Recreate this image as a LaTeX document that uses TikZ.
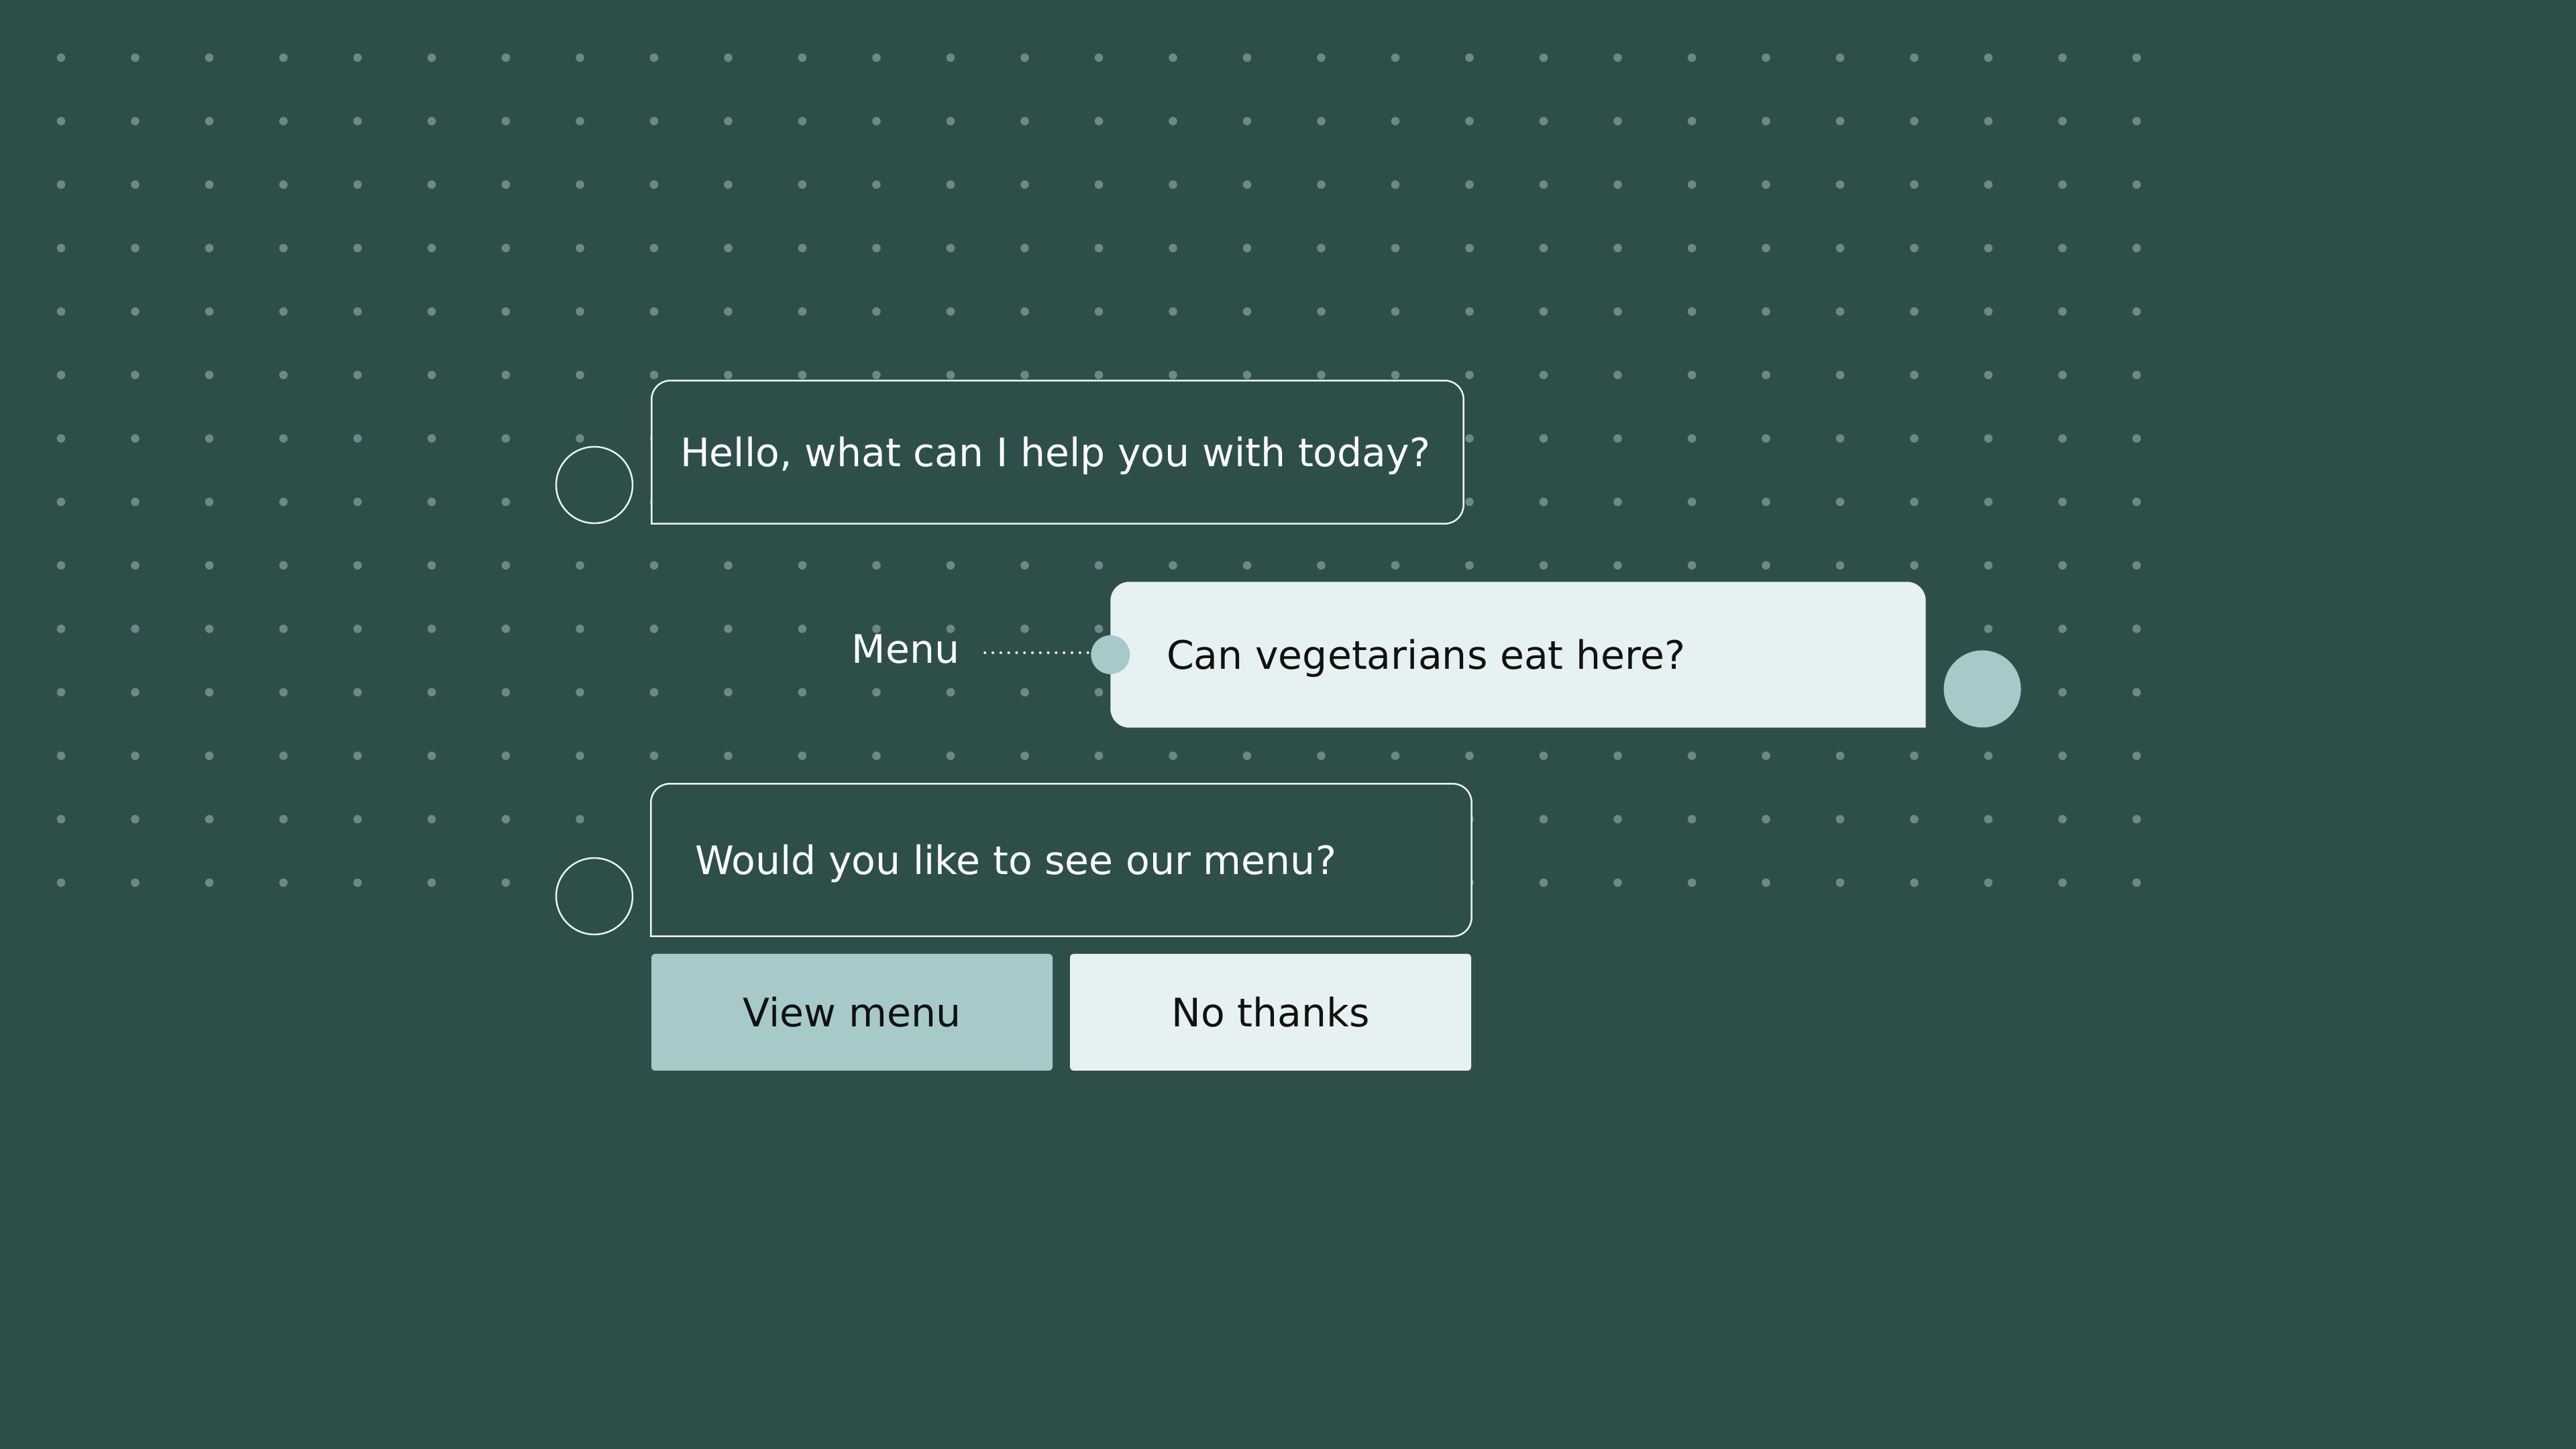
\documentclass[tikz,border=0pt]{standalone}
\usepackage{fontspec}
\setmainfont{DejaVu Sans}
\definecolor{bg}{HTML}{2E4E4A}
\definecolor{griddot}{HTML}{6E8985}
\definecolor{pale}{HTML}{E6F2F1}
\definecolor{sage}{HTML}{A7C9C9}
\definecolor{ink}{HTML}{111111}
\definecolor{rim}{HTML}{E9F3F1}
\tikzset{
  frame/.style={inner sep=0pt},
  outlined/.style={draw=rim, line width=0.025cm, fill=bg},
  msg/.style={anchor=west, inner sep=0pt, font=\fontsize{16.64pt}{20pt}\selectfont, text height=12.1pt, text depth=0pt},
  avatar/.style={circle, draw=rim, line width=0.025cm, fill=bg, minimum size=1.14cm, inner sep=0pt},
  button/.style={rounded corners=0.05cm, minimum width=5.98cm, minimum height=1.74cm, inner sep=0pt, text=ink, font=\fontsize{16.64pt}{20pt}\selectfont, text height=12.1pt, text depth=0pt},
  link/.style={draw=white, line width=0.04cm, line cap=round, dash pattern=on 0pt off 0.118cm}
}
\begin{document}
\begin{tikzpicture}
\fill[bg] (0,0) rectangle (38.4,21.6);
\foreach \col in {0,...,28}
  \foreach \row in {0,...,13}
    \fill[griddot] (0.91+1.105*\col,20.74-0.946*\row) circle (0.063);

% chat bubbles
\node[frame, minimum width=12.09cm, minimum height=2.12cm] (hello) at (15.765,14.86) {};
\node[frame, minimum width=12.14cm, minimum height=2.16cm] (veg) at (22.63,11.84) {};
\node[frame, minimum width=12.22cm, minimum height=2.26cm] (offer) at (15.82,8.78) {};

\path[outlined] (hello.west) -- (hello.south west) -- (hello.south) [rounded corners=0.28cm] -- (hello.south east) -- (hello.north east) -- (hello.north west) -- cycle;
\path[fill=pale] (veg.east) -- (veg.south east) -- (veg.south) [rounded corners=0.28cm] -- (veg.south west) -- (veg.north west) -- (veg.north east) -- cycle;
\path[outlined] (offer.west) -- (offer.south west) -- (offer.south) [rounded corners=0.28cm] -- (offer.south east) -- (offer.north east) -- (offer.north west) -- cycle;

\node[msg, text=white] (hellotext) at ([xshift=0.42cm]hello.west) {Hello, what can I help you with today?};
\node[msg, text=ink] (vegtext) at ([xshift=0.83cm]veg.west) {Can vegetarians eat here?};
\node[msg, text=white] (offertext) at ([xshift=0.65cm]offer.west) {Would you like to see our menu?};

% avatars
\node[avatar] (bot1) at (8.86,14.37) {};
\node[avatar] (bot2) at (8.86,8.24) {};
\node[circle, fill=sage, minimum size=1.15cm, inner sep=0pt] (user) at (29.55,11.33) {};
\node[circle, fill=sage, minimum size=0.58cm, inner sep=0pt] (vegdot) at (veg.west) {};

% intent label
\node[msg, text=white] (menu) at (12.69,11.93) {Menu};
\path[link, shorten <=0.04cm, shorten >=0.31cm] ([yshift=0.03cm]vegdot.west) -- ([yshift=0.03cm]vegdot.west -| menu.east);

% quick replies
\node[button, fill=sage] (view) at (12.70,6.51) {View menu};
\node[button, fill=pale] (nothanks) at (18.94,6.51) {No thanks};
\end{tikzpicture}
\end{document}
